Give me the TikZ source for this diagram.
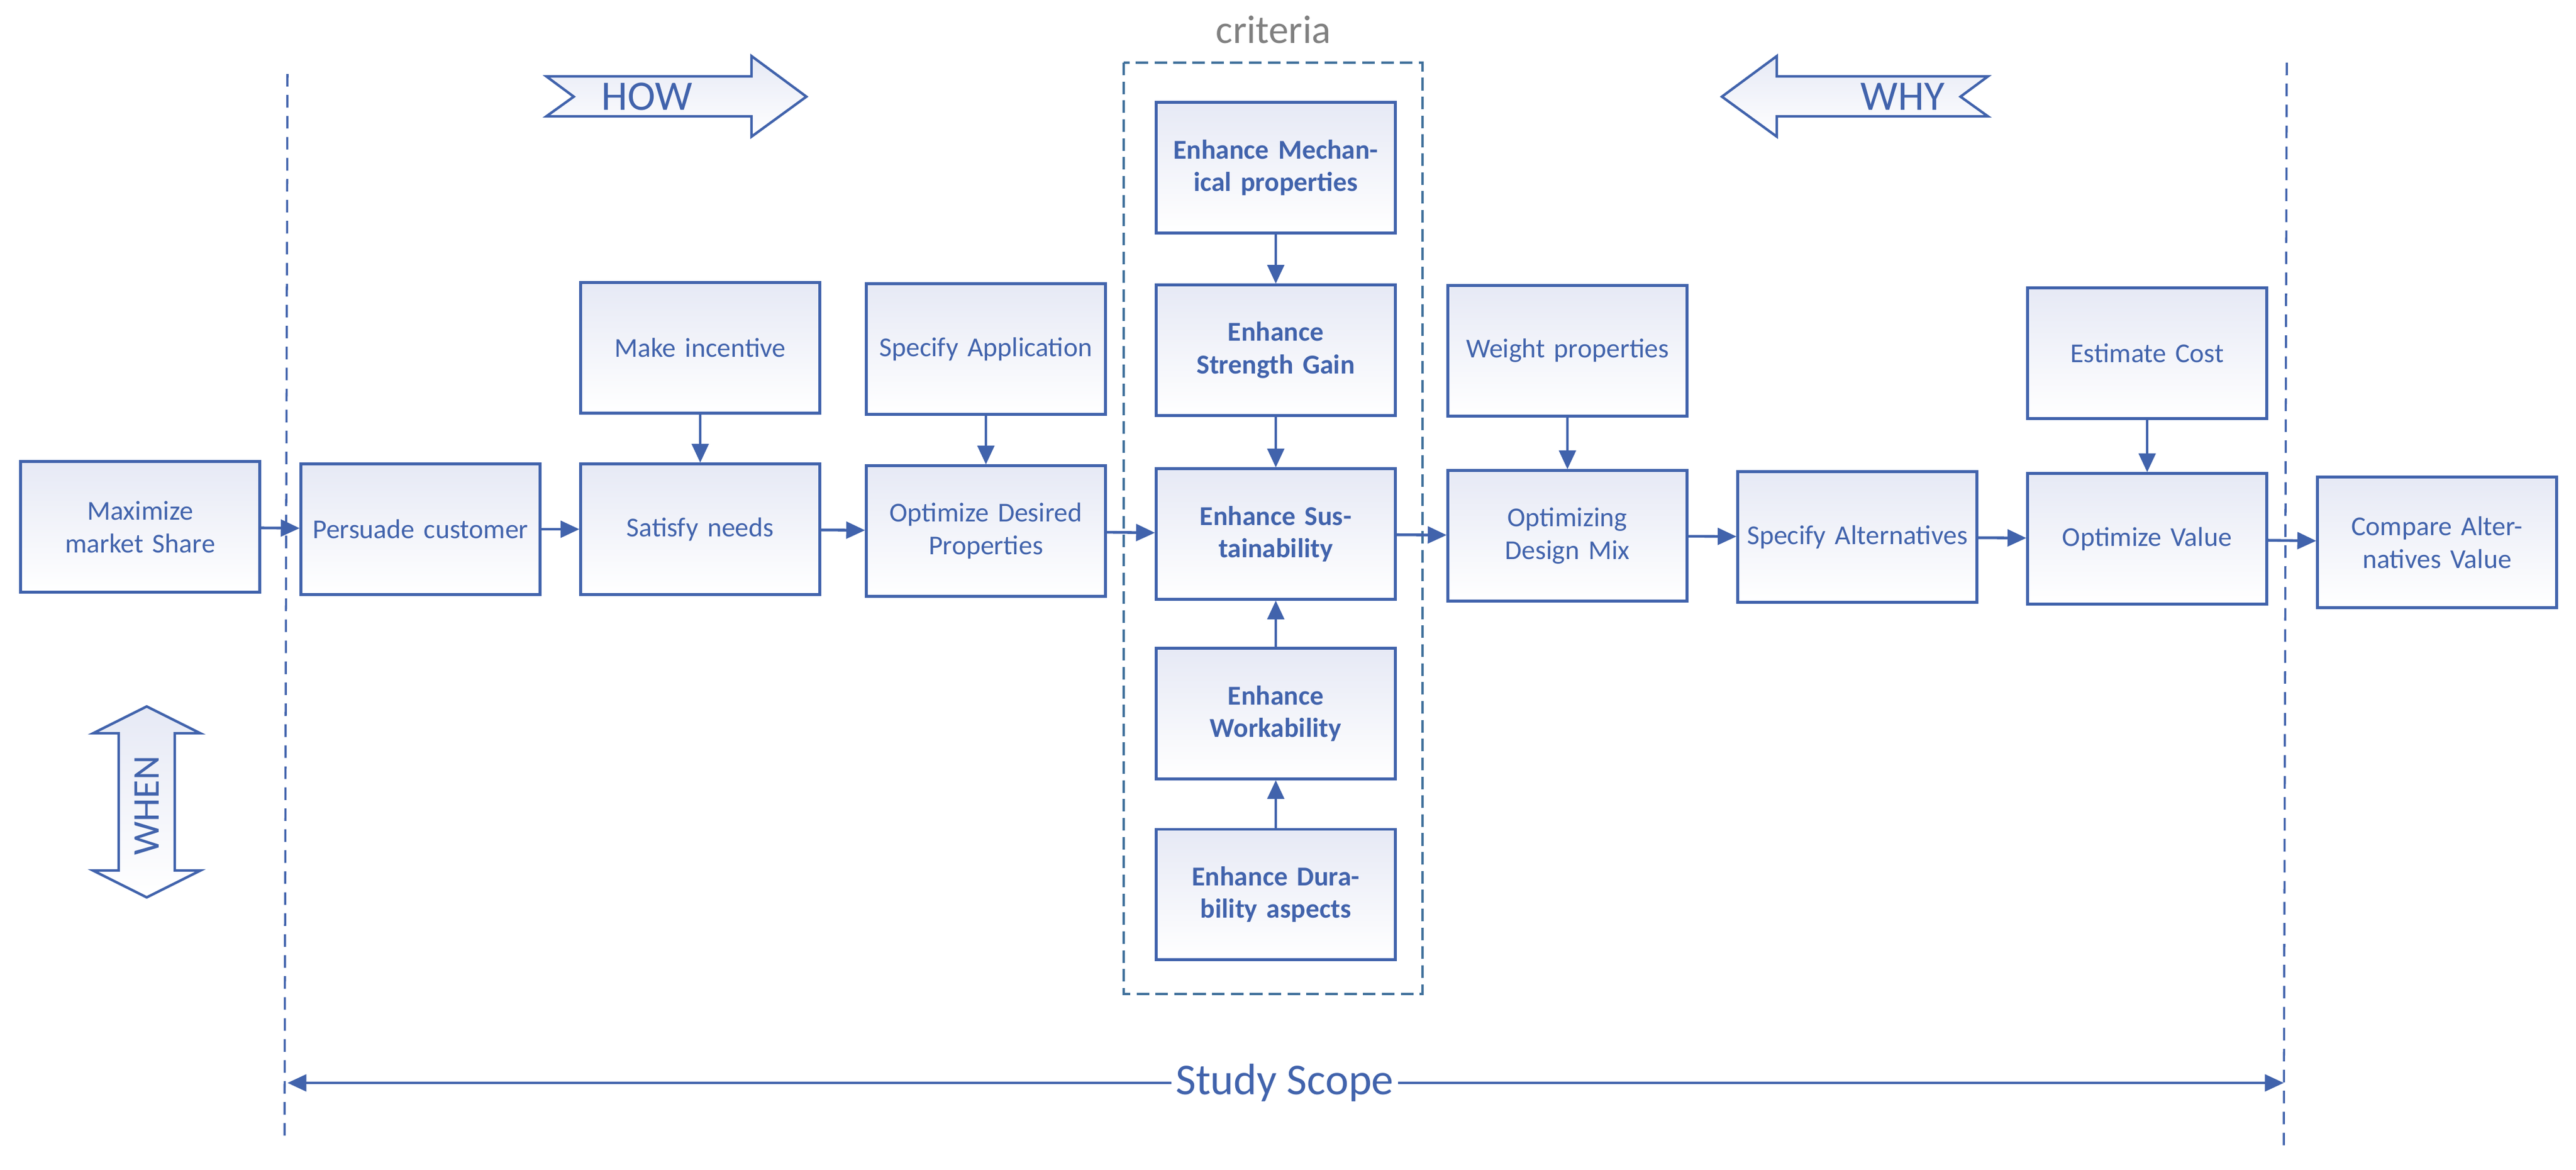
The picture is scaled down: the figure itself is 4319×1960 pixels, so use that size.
\documentclass[tikz,border=0pt]{standalone}
\usepackage{fontspec}
\setmainfont{Carlito}
\usetikzlibrary{arrows.meta}
\definecolor{boxblue}{HTML}{4163AC}
\definecolor{boxfill}{HTML}{E6E9F5}
\definecolor{critblue}{HTML}{41719C}
\begin{document}
\begin{tikzpicture}[
    x=0.01cm, y=-0.01cm,
    % Styles
    stage/.style={% For the process boxes
        rectangle,
        draw=boxblue,
        line width=1.4pt,
        top color=boxfill,
        bottom color=white,
        minimum width=4cm,
        minimum height=2.18cm,
        text width=3.7cm,
        align=center,
        text=boxblue,
        font=\fontsize{13}{15.6}\selectfont,
        },
    crit/.style={% For the criteria boxes
        stage,
        font=\fontsize{13}{15.6}\selectfont\bfseries,
        },
    big/.style={% For the direction arrows
        draw=boxblue,
        line width=1.2pt,
        top color=boxfill,
        bottom color=white,
        },
    link/.style={% Connectors
        draw=boxblue,
        line width=1.3pt,
        -{Triangle[length=9pt,width=8pt]},
        },
    scope/.style={% Study scope limits
        draw=boxblue,
        line width=1pt,
        dash pattern=on 6pt off 4pt,
        },
    ]
    \useasboundingbox (0,0) rectangle (4319,1960);

    % Main row
    \node [stage] (max) at (235,883) {Maximize market Share};
    \node [stage] (pers) at (705,887) {Persuade customer};
    \node [stage] (sat) at (1174,887) {Satisfy needs};
    \node [stage] (opt) at (1653,890) {Optimize Desired Properties};
    \node [crit] (sus) at (2139,895) {Enhance Sustainability};
    \node [stage] (mix) at (2628,898) {Optimizing Design Mix};
    \node [stage] (alt) at (3114,900) {Specify Alternatives};
    \node [stage] (val) at (3600,903) {Optimize Value};
    \node [stage] (cmp) at (4086,909) {Compare Alternatives Value};

    % Top row
    \node [stage] (inc) at (1174,583) {Make incentive};
    \node [stage] (app) at (1653,585) {Specify Application};
    \node [crit] (mech) at (2139,281) {Enhance Mechanical properties};
    \node [crit] (str) at (2139,587) {Enhance Strength Gain};
    \node [stage] (wgt) at (2628,588) {Weight properties};
    \node [stage] (cost) at (3600,592) {Estimate Cost};

    % Bottom of the criteria column
    \node [crit] (work) at (2139,1196) {Enhance Workability};
    \node [crit] (dur) at (2139,1499) {Enhance Durability aspects};

    % Criteria frame
    \draw [critblue, line width=1pt, dash pattern=on 6pt off 3pt]
        (1884,105) rectangle (2385,1666);
    \node [text=gray, font=\fontsize{19}{22}\selectfont] (critlbl) at (2135,50) {criteria};

    % Connectors
    \foreach \a/\b in {max/pers, pers/sat, sat/opt, opt/sus, sus/mix,
                       mix/alt, alt/val, val/cmp, inc/sat, app/opt,
                       mech/str, str/sus, wgt/mix, cost/val, dur/work, work/sus}
        \draw [link] (\a) -- (\b);

    % Scope limits
    \coordinate (sl) at (482,124);
    \coordinate (slb) at (477,1906);
    \coordinate (sr) at (3834,105);
    \coordinate (srb) at (3829,1925);
    \draw [scope] (sl) -- (slb);
    \draw [scope] (sr) -- (srb);
    \coordinate (scl) at (482,1815);
    \coordinate (scr) at (3829,1815);
    \draw [draw=boxblue, line width=1.2pt, {Triangle[length=9pt,width=8pt]}-{Triangle[length=9pt,width=8pt]}] (scl) -- (scr);
    \node [fill=white, text=boxblue, inner sep=2pt, font=\fontsize{21}{24}\selectfont] (study) at (2154,1815) {Study Scope};

    % HOW, WHY, WHEN arrows
    \draw [big] (916,128) -- (1260,128) -- (1260,94) -- (1352,162) -- (1260,229)
        -- (1260,195) -- (916,195) -- (962,162) -- cycle;
    \node [text=boxblue, font=\fontsize{20}{24}\selectfont] (how) at (1085,162) {HOW};
    \draw [big] (3333,128) -- (2979,128) -- (2979,94) -- (2887,162) -- (2979,229)
        -- (2979,195) -- (3333,195) -- (3287,162) -- cycle;
    \node [text=boxblue, font=\fontsize{20}{24}\selectfont] (why) at (3190,162) {WHY};
    \draw [big] (246,1184) -- (336,1229) -- (293,1229) -- (293,1459) -- (336,1459)
        -- (246,1504) -- (156,1459) -- (199,1459) -- (199,1229) -- (156,1229) -- cycle;
    \node [text=boxblue, rotate=90, font=\fontsize{18}{22}\selectfont] (when) at (246,1350) {WHEN};
\end{tikzpicture}
\end{document}
